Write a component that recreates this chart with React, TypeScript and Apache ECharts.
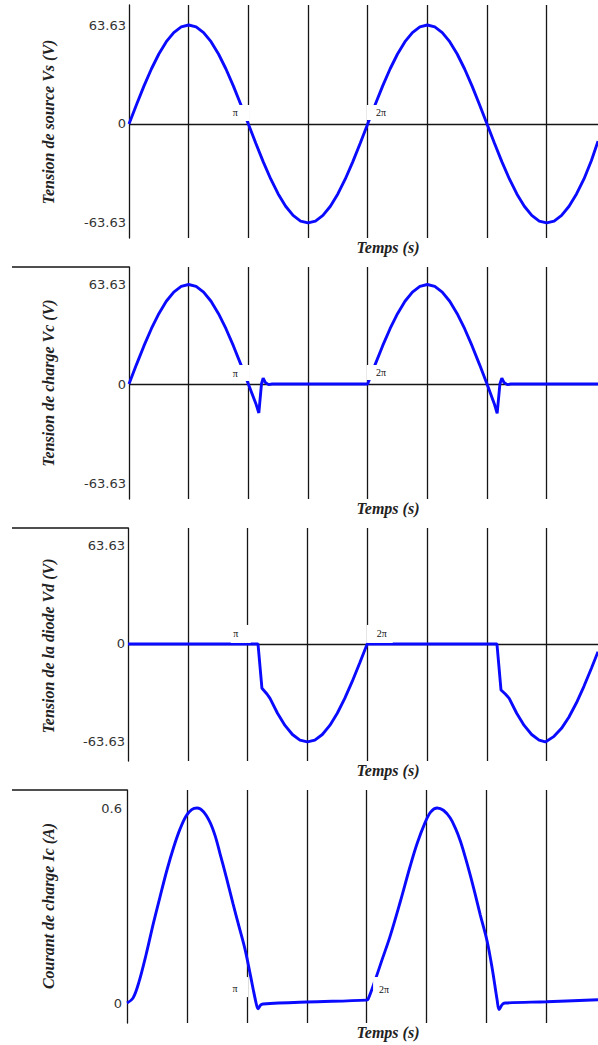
import React, { useEffect, useRef } from "react";
import * as echarts from "echarts";

// ---- axis extents / ticks ----
const X_MAX = 39.3; // ms
const X_STEP = 5; // ms per grid division (pi/2)
const voltTicks = [-63.63, 0, 63.63];
const currentTicks = [0, 0.6];

const panelTitles = [
  "Tension de source Vs (V)",
  "Tension de charge Vc (V)",
  "Tension de la diode Vd (V)",
  "Courant de charge Ic (A)",
];
const xTitle = "Temps (s)";

// ---- series: [time (ms), value] ----
const vsData = [
  [0, 0], [0.625, 12.41], [1.25, 24.35], [1.875, 35.35], [2.5, 44.99], [3.125, 52.91], [3.75, 58.79], [4.375, 62.41],
  [5, 63.63], [5.625, 62.41], [6.25, 58.79], [6.875, 52.91], [7.5, 44.99], [8.125, 35.35], [8.75, 24.35], [9.375, 12.41],
  [10, 0], [10.625, -12.41], [11.25, -24.35], [11.875, -35.35], [12.5, -44.99], [13.125, -52.91], [13.75, -58.79], [14.375, -62.41],
  [15, -63.63], [15.625, -62.41], [16.25, -58.79], [16.875, -52.91], [17.5, -44.99], [18.125, -35.35], [18.75, -24.35], [19.375, -12.41],
  [20, 0], [20.625, 12.41], [21.25, 24.35], [21.875, 35.35], [22.5, 44.99], [23.125, 52.91], [23.75, 58.79], [24.375, 62.41],
  [25, 63.63], [25.625, 62.41], [26.25, 58.79], [26.875, 52.91], [27.5, 44.99], [28.125, 35.35], [28.75, 24.35], [29.375, 12.41],
  [30, 0], [30.625, -12.41], [31.25, -24.35], [31.875, -35.35], [32.5, -44.99], [33.125, -52.91], [33.75, -58.79], [34.375, -62.41],
  [35, -63.63], [35.625, -62.41], [36.25, -58.79], [36.875, -52.91], [37.5, -44.99], [38.125, -35.35], [38.75, -23.5], [39.3, -11],
];

const vcData = [
  [0, 0], [0.625, 12.41], [1.25, 24.35], [1.875, 35.35], [2.5, 44.99], [3.125, 52.91], [3.75, 58.79], [4.375, 62.41],
  [5, 63.63], [5.625, 62.41], [6.25, 58.79], [6.875, 52.91], [7.5, 44.99], [8.125, 35.35], [8.75, 24.35], [9.375, 12.41],
  [10, 0], [10.625, -12.41], [10.88, -18.5], [11.1, 0], [11.24, 3.8], [11.42, 1.0], [11.7, -0.4], [12, 0],
  [20, 0], [20.625, 12.41], [21.25, 24.35], [21.875, 35.35], [22.5, 44.99], [23.125, 52.91], [23.75, 58.79], [24.375, 62.41],
  [25, 63.63], [25.625, 62.41], [26.25, 58.79], [26.875, 52.91], [27.5, 44.99], [28.125, 35.35], [28.75, 24.35], [29.375, 12.41],
  [30, 0], [30.6, -12.41], [30.85, -18.8], [31.08, 0], [31.24, 3.8], [31.42, 1.0], [31.7, -0.4], [32, 0],
  [39.3, 0],
];

const vdData = [
  [0, 0], [10.87, 0], [11.2, -28.8], [11.62, -32.5], [11.875, -35.35], [12.5, -44.99], [13.125, -52.91], [13.75, -58.79],
  [14.375, -62.41], [15, -63.63], [15.625, -62.41], [16.25, -58.79], [16.875, -52.91], [17.5, -44.99], [18.125, -35.35],
  [18.75, -24.35], [19.375, -12.41], [20, 0],
  [30.85, 0], [31.19, -29.9], [31.55, -32.5], [31.875, -35.35], [32.5, -44.99], [33.125, -52.91], [33.75, -58.79],
  [34.375, -62.41], [34.9, -63.63], [35.625, -60.0], [36.25, -54.8], [36.875, -47.4], [37.5, -38.2], [38.125, -27.5],
  [38.75, -15.8], [39.3, -5.0],
];

const icData = [
  [0, 0], [0.5, 0.015], [1.0, 0.065], [1.6, 0.15], [2.2, 0.245], [2.75, 0.326], [3.34, 0.41], [3.9, 0.48],
  [4.42, 0.535], [4.92, 0.575], [5.4, 0.595], [5.84, 0.6], [6.4, 0.588], [6.93, 0.556], [7.35, 0.515], [7.76, 0.46],
  [8.3, 0.385], [8.85, 0.305], [9.35, 0.235], [9.85, 0.165], [10.3, 0.085], [10.77, 0], [10.94, -0.018], [11.15, -0.006],
  [11.35, -0.003], [15, 0.003], [20, 0.009], [20.12, 0.012], [20.7, 0.07], [21.3, 0.135], [21.95, 0.205], [22.79, 0.31],
  [23.62, 0.42], [24.2, 0.49], [24.87, 0.555], [25.35, 0.588], [25.88, 0.6], [26.4, 0.593], [26.96, 0.57], [27.4, 0.538],
  [27.8, 0.5], [28.2, 0.452], [28.63, 0.395], [29.05, 0.335], [29.47, 0.272], [30.05, 0.19], [30.5, 0.1], [30.88, 0.01],
  [31.05, -0.02], [31.3, -0.005], [31.55, 0], [35, 0.004], [39.3, 0.01],
];

// phase marks (pi, 2pi) anchored in data coordinates
const phaseMarkText = ["π", "2π"];
const phaseMarkT = [[9.33, 20.96], [9.33, 20.96], [9.43, 21.05], [9.35, 21.66]];
const phaseMarkV = [[7.07, 7.4], [7.03, 7.35], [6.5, 6.5], [0.049, 0.037]];

const seriesData = [vsData, vcData, vdData, icData];
const tickSets = [voltTicks, voltTicks, voltTicks, currentTicks];

export default function App() {
  const ref = useRef<HTMLDivElement>(null);

  useEffect(() => {
    if (!ref.current) return;
    const chart = echarts.init(ref.current, undefined, { renderer: "svg" });

    const grids = [
      { left: 129, top: 5, height: 233 },
      { left: 129, top: 267, height: 232 },
      { left: 128, top: 528, height: 233 },
      { left: 127, top: 790, height: 233 },
    ];
    const yRanges = [[-73.3, 76.5], [-73.5, 74.8], [-76.0, 75.3], [-0.0615, 0.6554]];
    const titleY = [122, 383, 646, 906];
    const xTitleY = [247, 508, 770, 1032];
    const lineColor = "#151515";
    // white knock-out boxes [w, h] and text offsets [dx, dy]
    const markBox = [
      [[19, 16], [25, 15]],
      [[19, 16], [25, 15]],
      [[20, 18], [26, 18]],
      [[18, 20], [27, 28]],
    ];
    const markOffset = [
      [[-5, 0], [2, 0]],
      [[-5, 0], [2, 0]],
      [[-5, 0], [2, 0]],
      [[-4, 1], [-2.5, -1.5]],
    ];

    const series: any[] = [];
    seriesData.forEach((d, i) => {
      series.push({
        type: "line",
        xAxisIndex: i,
        yAxisIndex: i,
        data: d,
        showSymbol: false,
        symbol: "none",
        smooth: i === 3 ? 0.35 : false,
        lineStyle: { color: "#0a0aff", width: 2.9 },
        z: 3,
        silent: true,
      });
      series.push({
        type: "scatter",
        xAxisIndex: i,
        yAxisIndex: i,
        symbol: "rect",
        itemStyle: { color: "#ffffff", opacity: 1 },
        z: 10,
        silent: true,
        data: phaseMarkText.map((txt, k) => ({
          value: [phaseMarkT[i][k], phaseMarkV[i][k]],
          symbolSize: markBox[i][k],
          label: {
            show: true,
            position: "inside",
            offset: markOffset[i][k],
            formatter: txt,
            fontFamily: "Liberation Serif",
            fontSize: 10,
            color: "#111",
          },
        })),
      });
    });

    const graphic: any[] = [];
    [1, 2, 3].forEach((i) => {
      graphic.push({
        type: "line",
        shape: { x1: 12, y1: grids[i].top, x2: grids[i].left, y2: grids[i].top },
        style: { stroke: lineColor, lineWidth: 1.3 },
      });
    });
    panelTitles.forEach((t, i) => {
      graphic.push({
        type: "text",
        x: 48,
        y: titleY[i],
        rotation: Math.PI / 2,
        style: {
          text: t,
          fontFamily: "Liberation Serif",
          fontStyle: "italic",
          fontWeight: "bold",
          fontSize: 16,
          fill: "#222",
          align: "center",
          verticalAlign: "middle",
          textAlign: "center",
          textVerticalAlign: "middle",
        },
      });
      graphic.push({
        type: "text",
        x: 388,
        y: xTitleY[i],
        style: {
          text: xTitle,
          fontFamily: "Liberation Serif",
          fontStyle: "italic",
          fontWeight: "bold",
          fontSize: 16,
          fill: "#222",
          align: "center",
          verticalAlign: "middle",
          textAlign: "center",
          textVerticalAlign: "middle",
        },
      });
    });

    chart.setOption({
      animation: false,
      backgroundColor: "#ffffff",
      grid: grids.map((g) => ({ left: g.left, top: g.top, height: g.height, right: 0, containLabel: false })),
      xAxis: grids.map((_, i) => ({
        type: "value",
        gridIndex: i,
        min: 0,
        max: X_MAX,
        interval: X_STEP,
        axisLine: { show: false, onZero: false },
        axisTick: { show: false },
        axisLabel: { show: false },
        splitLine: { show: true, showMinLine: false, showMaxLine: false, lineStyle: { color: lineColor, width: 1.3 } },
      })),
      yAxis: grids.map((_, i) => ({
        type: "value",
        gridIndex: i,
        min: yRanges[i][0],
        max: yRanges[i][1],
        axisLine: { show: true, onZero: false, lineStyle: { color: lineColor, width: 1.3 } },
        axisTick: { show: false, customValues: tickSets[i] },
        axisLabel: {
          show: true,
          customValues: tickSets[i],
          formatter: (v: number) => String(v),
          fontFamily: "DejaVu Sans",
          fontSize: 13,
          color: "#333",
          margin: i === 3 ? 5 : 3,
        },
        splitLine: { show: true, showMinLine: false, showMaxLine: false, lineStyle: { color: lineColor, width: 1.3 } },
      })),
      series,
      graphic,
    });

    return () => chart.dispose();
  }, []);

  return <div ref={ref} style={{ position: "absolute", left: 0, top: 0, width: 598, height: 1045 }} />;
}
